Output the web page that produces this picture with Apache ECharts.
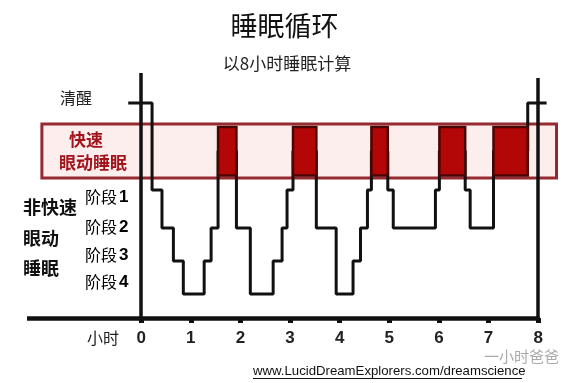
<!DOCTYPE html>
<html><head><meta charset="utf-8">
<script src="https://cdn.jsdelivr.net/npm/echarts@6/dist/echarts.min.js"></script>
<style>html,body{margin:0;padding:0;background:#fff}#c{width:569px;height:383px}</style>
</head><body><div id="c"></div>
<script>
// Sleep stages (W = awake, R = REM, N1..N4 = non-REM stages) and their heights on the y scale
const stageKeys = ['W', 'R', 'N1', 'N2', 'N3', 'N4'];
const stageHeights = [21.5, 16.7, 12.8, 9.0, 5.7, 2.4];
// Hypnogram: hour at which each stage begins (last entry = end of line)
const hypnoHours = [-0.26, 0.22, 0.42, 0.65, 0.85, 1.27, 1.41, 1.55, 1.92, 2.20, 2.66, 2.84, 2.94, 3.06, 3.53, 3.93, 4.27, 4.42, 4.56, 4.64, 4.97, 5.08, 5.93, 6.01, 6.53, 6.63, 7.10, 7.79, 8.17];
const hypnoStages = ['W', 'N1', 'N2', 'N3', 'N4', 'N3', 'N2', 'R', 'N2', 'N4', 'N3', 'N2', 'N1', 'R', 'N2', 'N4', 'N3', 'N2', 'N1', 'R', 'N1', 'N2', 'N1', 'R', 'N1', 'N2', 'R', 'W', 'W'];
const hourTicks = [0, 1, 2, 3, 4, 5, 6, 7, 8];
const hourUnitLabel = '小时';
const remBandRange = [14.0, 19.4];
const remBlockRange = [14.25, 19.1];
const remBandHours = [-2.0, 8.37];
const titleText = '睡眠循环';
const subtitleText = '以8小时睡眠计算';

const level = s => stageHeights[stageKeys.indexOf(s)];
const hypnoData = hypnoHours.map((h, i) => [h, level(hypnoStages[i])]);
const remBlocks = [];
hypnoStages.forEach((s, i) => {
  if (s === 'R' && i + 1 < hypnoHours.length) remBlocks.push([hypnoHours[i], hypnoHours[i + 1], remBlockRange[0], remBlockRange[1]]);
});
const bandData = [[remBandHours[0], remBandHours[1], remBandRange[0], remBandRange[1]]];

const FONT = 'Liberation Sans, Noto Sans CJK SC, sans-serif';
const CJK = 'Noto Sans CJK SC, sans-serif';
const chart = echarts.init(document.getElementById('c'), null, { renderer: 'canvas' });

const stageLabels = [
  { n: '1', y: 197 }, { n: '2', y: 227 }, { n: '3', y: 255 }, { n: '4', y: 282 }
];

const graphics = [
  { type: 'text', left: 'center', top: 12, style: { text: titleText, font: '27px ' + CJK, fill: '#111' } },
  { type: 'text', x: 287, y: 64, style: { text: subtitleText, font: '17px ' + CJK, fill: '#222', align: 'center', verticalAlign: 'middle' } },
  { type: 'text', x: 76, y: 98, style: { text: '清醒', font: '16px ' + CJK, fill: '#222', align: 'center', verticalAlign: 'middle' } },
  { type: 'text', x: 86, y: 140, style: { text: '快速', font: 'bold 17px ' + CJK, fill: '#a3131b', align: 'center', verticalAlign: 'middle' } },
  { type: 'text', x: 93, y: 163, style: { text: '眼动睡眠', font: 'bold 17px ' + CJK, fill: '#a3131b', align: 'center', verticalAlign: 'middle' } },
  { type: 'text', x: 23, y: 207, style: { text: '非快速', font: 'bold 18px ' + CJK, fill: '#111', verticalAlign: 'middle' } },
  { type: 'text', x: 23, y: 238, style: { text: '眼动', font: 'bold 18px ' + CJK, fill: '#111', verticalAlign: 'middle' } },
  { type: 'text', x: 23, y: 268, style: { text: '睡眠', font: 'bold 18px ' + CJK, fill: '#111', verticalAlign: 'middle' } },
  { type: 'text', x: 253, y: 371, style: { text: 'www.LucidDreamExplorers.com/dreamscience', font: '13.2px ' + FONT, fill: '#111', verticalAlign: 'middle' } },
  { type: 'line', shape: { x1: 253, y1: 378.5, x2: 522, y2: 378.5 }, style: { stroke: '#111', lineWidth: 1 } },
  { type: 'text', x: 484, y: 356, style: { text: '一小时爸爸', font: '15px ' + CJK, fill: '#aaa', verticalAlign: 'middle' } }
];
stageLabels.forEach(s => {
  graphics.push({
    type: 'text', x: 85, y: s.y,
    style: {
      text: '{a|阶段}{b|' + s.n + '}', verticalAlign: 'middle',
      rich: {
        a: { fontFamily: CJK, fontSize: 16, color: '#333' },
        b: { fontFamily: FONT, fontSize: 17, fontWeight: 'bold', color: '#222', padding: [0, 0, 0, 2] }
      }
    }
  });
});
graphics.forEach(g => { g.z = 100; });

const xMin = -2.3, xMax = 8.4, yMax = 24.5;

function rectItem(fill, stroke, lw) {
  return function (params, api) {
    const p0 = api.coord([api.value(0), api.value(3)]);
    const p1 = api.coord([api.value(1), api.value(2)]);
    return {
      type: 'rect',
      shape: { x: p0[0], y: p0[1], width: p1[0] - p0[0], height: p1[1] - p0[1] },
      style: { fill: fill, stroke: stroke, lineWidth: lw }
    };
  };
}

chart.setOption({
  animation: false,
  backgroundColor: '#fff',
  grid: { left: 27, right: 11, top: 73, bottom: 65 },
  xAxis: {
    type: 'value', min: xMin, max: xMax,
    axisLine: { show: false },
    splitLine: { show: false },
    axisTick: { show: true, customValues: hourTicks, length: 5, lineStyle: { color: '#111', width: 5 } },
    axisLabel: {
      customValues: [-0.77].concat(hourTicks),
      margin: 12,
      formatter: v => (v < 0 ? '{u|' + hourUnitLabel + '}' : String(v)),
      fontFamily: FONT, fontSize: 17, fontWeight: 'bold', color: '#222',
      rich: { u: { fontFamily: CJK, fontSize: 16, fontWeight: 'normal', color: '#222' } }
    }
  },
  yAxis: {
    type: 'value', min: 0, max: yMax, show: false, splitLine: { show: false }
  },
  graphic: graphics,
  series: [
    {
      type: 'custom', data: bandData, z: 1, silent: true, clip: false,
      renderItem: rectItem('#fdeeee', '#962a30', 3)
    },
    {
      type: 'line', data: hypnoData, step: 'end', z: 3, silent: true,
      symbol: 'none', lineStyle: { color: '#111', width: 3 }
    },
    {
      type: 'custom', data: remBlocks, z: 4, silent: true,
      renderItem: rectItem('#b30707', '#4a0505', 2.5)
    },
    {
      type: 'line', data: [], z: 5, silent: true,
      markLine: {
        silent: true, symbol: 'none', label: { show: false },
        lineStyle: { type: 'solid', color: '#111', width: 3.5 },
        data: [
          [{ coord: [0, 0] }, { coord: [0, yMax] }],
          [{ coord: [8, 0] }, { coord: [8, 24.0] }],
          [{ coord: [xMin, 0], lineStyle: { width: 4.5 } }, { coord: [8.03, 0] }]
        ]
      }
    }
  ]
});
</script>
</body></html>
